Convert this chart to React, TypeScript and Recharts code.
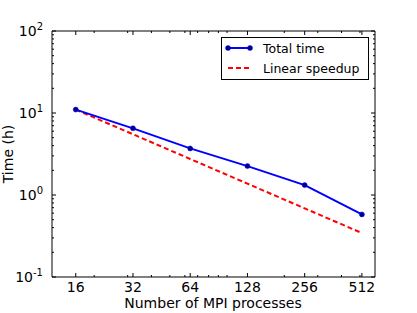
import React from 'react';
import { LineChart, Line, XAxis, YAxis } from 'recharts';

const processes = [16, 32, 64, 128, 256, 512];
const totalTime = [11.0, 6.5, 3.7, 2.25, 1.32, 0.58];
const linearSpeedup = [11.0, 5.5, 2.75, 1.375, 0.6875, 0.344];
const xMajorTicks = [16, 32, 64, 128, 256, 512];
const xMinorTicks = [20, 30, 40, 50, 60, 70, 80, 90, 100, 200, 300, 400, 500];
const yMajorTicks = [0.1, 1, 10, 100];
const yMajorExp = ['-1', '0', '1', '2'];
const yMinorTicks = [0.2, 0.3, 0.4, 0.5, 0.6, 0.7, 0.8, 0.9, 2, 3, 4, 5, 6, 7, 8, 9, 20, 30, 40, 50, 60, 70, 80, 90];
const seriesNames = ['Total time', 'Linear speedup'];

const data = processes.map((p, i) => ({ p, total: totalTime[i], linear: linearSpeedup[i] }));

const FONT = 'DejaVu Sans, sans-serif';
const allX = [...xMajorTicks, ...xMinorTicks].sort((a, b) => a - b);
const allY = [...yMajorTicks, ...yMinorTicks].sort((a, b) => a - b);

const isMajorX = (v: number) => xMajorTicks.includes(v);
const isMajorY = (v: number) => yMajorTicks.some((m) => Math.abs(m - v) < 1e-9);

const BottomTick = (props: any) => {
  const { x, y, payload } = props;
  const major = isMajorX(payload.value);
  const len = major ? 4 : 2;
  return (
    <g>
      <line x1={x} x2={x} y1={y} y2={y - len} stroke="#000" strokeWidth={1} />
      {major && (
        <text x={x} y={y + 15} textAnchor="middle" fontFamily={FONT} fontSize={14} fill="#000">
          {payload.value}
        </text>
      )}
    </g>
  );
};

const TopTick = (props: any) => {
  const { x, y, payload } = props;
  const major = isMajorX(payload.value);
  const len = major ? 4 : 2;
  return <line x1={x} x2={x} y1={y} y2={y + len} stroke="#000" strokeWidth={1} />;
};

const LeftTick = (props: any) => {
  const { x, y, payload } = props;
  const major = isMajorY(payload.value);
  const len = major ? 4 : 2;
  const idx = yMajorTicks.findIndex((m) => Math.abs(m - payload.value) < 1e-9);
  return (
    <g>
      <line x1={x} x2={x + len} y1={y} y2={y} stroke="#000" strokeWidth={1} />
      {major && (
        <text x={x - 9} y={y + 5} textAnchor="end" fontFamily={FONT} fontSize={14} fill="#000">
          <tspan>10</tspan>
          <tspan dy={-6} fontSize={10}>{yMajorExp[idx]}</tspan>
        </text>
      )}
    </g>
  );
};

const RightTick = (props: any) => {
  const { x, y, payload } = props;
  const major = isMajorY(payload.value);
  const len = major ? 4 : 2;
  return <line x1={x} x2={x - len} y1={y} y2={y} stroke="#000" strokeWidth={1} />;
};

export default function App() {
  return (
    <div style={{ position: 'absolute', left: 0, top: 0, width: 417, height: 313, background: '#fff' }}>
      <LineChart
        width={417}
        height={313}
        data={data}
        margin={{ top: 21, right: 32, bottom: 6, left: 12 }}
      >
        <XAxis
          xAxisId="bottom"
          dataKey="p"
          type="number"
          scale="log"
          domain={[12, 600]}
          allowDataOverflow
          ticks={allX}
          interval={0}
          height={30}
          tickSize={0}
          tickMargin={0}
          tick={<BottomTick />}
          axisLine={{ stroke: '#000', strokeWidth: 1 }}
          tickLine={false}
        />
        <XAxis
          xAxisId="top"
          orientation="top"
          dataKey="p"
          type="number"
          scale="log"
          domain={[12, 600]}
          allowDataOverflow
          ticks={allX}
          interval={0}
          height={10}
          tickSize={0}
          tickMargin={0}
          tick={<TopTick />}
          axisLine={{ stroke: '#000', strokeWidth: 1 }}
          tickLine={false}
        />
        <YAxis
          yAxisId="left"
          type="number"
          scale="log"
          domain={[0.1, 100]}
          allowDataOverflow
          ticks={allY}
          interval={0}
          width={40}
          tickSize={0}
          tickMargin={0}
          tick={<LeftTick />}
          axisLine={{ stroke: '#000', strokeWidth: 1 }}
          tickLine={false}
        />
        <YAxis
          yAxisId="right"
          orientation="right"
          type="number"
          scale="log"
          domain={[0.1, 100]}
          allowDataOverflow
          ticks={allY}
          interval={0}
          width={10}
          tickSize={0}
          tickMargin={0}
          tick={<RightTick />}
          axisLine={{ stroke: '#000', strokeWidth: 1 }}
          tickLine={false}
        />
        <Line
          xAxisId="bottom"
          yAxisId="left"
          dataKey="linear"
          name={seriesNames[1]}
          stroke="#ff0000"
          strokeWidth={2}
          strokeDasharray="5 3"
          dot={false}
          isAnimationActive={false}
        />
        <Line
          xAxisId="bottom"
          yAxisId="left"
          dataKey="total"
          name={seriesNames[0]}
          stroke="#0000ff"
          strokeWidth={2}
          dot={{ r: 2.5, fill: '#00008b', stroke: '#0000ff', strokeWidth: 0.5 }}
          isAnimationActive={false}
        />
      </LineChart>
      <svg
        width={417}
        height={313}
        style={{ position: 'absolute', left: 0, top: 0, pointerEvents: 'none' }}
      >
        <g transform="translate(221,37)">
          <rect x={0.5} y={0.5} width={147} height={42} fill="#fff" stroke="#000" strokeWidth={1} />
          <line x1={7} x2={29} y1={11} y2={11} stroke="#0000ff" strokeWidth={2} />
          <circle cx={7} cy={11} r={2.5} fill="#00008b" stroke="#0000ff" strokeWidth={0.5} />
          <circle cx={29} cy={11} r={2.5} fill="#00008b" stroke="#0000ff" strokeWidth={0.5} />
          <text x={42} y={16} fontFamily={FONT} fontSize={12.5} fill="#000">{seriesNames[0]}</text>
          <line x1={7} x2={29} y1={31} y2={31} stroke="#ff0000" strokeWidth={2} strokeDasharray="5 3" />
          <text x={42} y={36} fontFamily={FONT} fontSize={12.5} fill="#000">{seriesNames[1]}</text>
        </g>
        <text x={213} y={308} textAnchor="middle" fontFamily={FONT} fontSize={14} fill="#000">
          Number of MPI processes
        </text>
        <text
          x={12.5}
          y={154}
          textAnchor="middle"
          fontFamily={FONT}
          fontSize={14}
          fill="#000"
          transform="rotate(-90 12.5 154)"
        >
          Time (h)
        </text>
      </svg>
    </div>
  );
}
